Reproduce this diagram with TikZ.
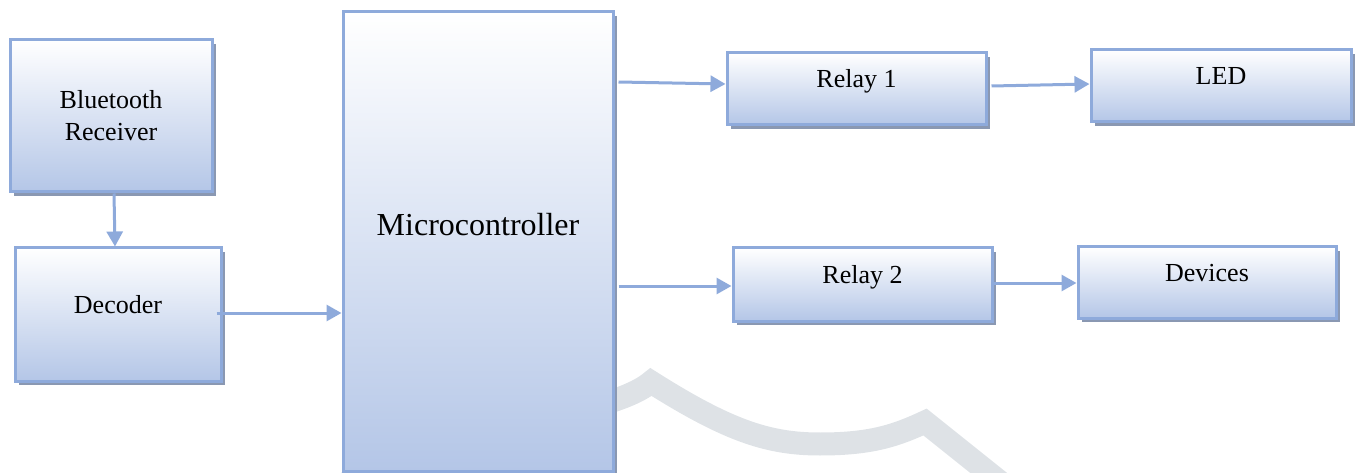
\documentclass[tikz,border=0pt]{standalone}
\usepackage{fontspec}
\setmainfont{Liberation Serif}
\usetikzlibrary{arrows.meta,shadows,calc}
\definecolor{bordc}{RGB}{142,170,219}
\definecolor{shadc}{RGB}{138,152,178}
\definecolor{botc}{RGB}{180,198,231}
\definecolor{wmarkc}{RGB}{222,226,230}
\tikzset{
  blk/.style={draw=bordc, line width=3pt, top color=white, bottom color=botc,
    inner sep=0pt, general shadow={fill=shadc, shadow xshift=4pt, shadow yshift=-4pt},
    font=\fontsize{26}{32}\selectfont},
  onel/.style={text height=18pt, text depth=20pt},
  arr/.style={draw=bordc, line width=3pt, -{Triangle[width=16pt,length=15pt]}},
  wmk/.style={draw=wmarkc, line width=23pt, line join=miter, line cap=butt}
}
\begin{document}
\begin{tikzpicture}[x=1pt,y=-1pt]
\useasboundingbox (0,0) rectangle (1355,473);
\begin{scope}
  \clip (0,0) rectangle (1355,473);
  \draw[wmk] (342,490) .. controls (380,430) and (600,425) .. (651,382)
    .. controls (730,432) and (770,444) .. (820,444)
    .. controls (870,444) and (895,436) .. (925,422) -- (1000,482);
\end{scope}
\node[blk, minimum width=202pt, minimum height=152pt, align=center] (bt) at (111,116) {Bluetooth\\Receiver};
\node[blk, onel, minimum width=206pt, minimum height=133pt] (dec) at (118,314.5) {Decoder};
\node[blk, font=\fontsize{32}{38}\selectfont, text height=22pt, text depth=33pt, minimum width=270pt, minimum height=459pt] (mc) at (478,241.5) {Microcontroller};
\node[blk, onel, minimum width=259pt, minimum height=72pt] (r1) at (856.5,89) {Relay 1};
\node[blk, onel, minimum width=260pt, minimum height=72pt] (led) at (1221,86) {LED};
\node[blk, onel, minimum width=259pt, minimum height=73pt] (r2) at (862.5,284.5) {Relay 2};
\node[blk, onel, minimum width=258pt, minimum height=71pt] (dev) at (1207,282.5) {Devices};
\draw[arr] ($(bt.south)+(3,0)$) -- ($(dec.north)+(-3,0)$);
\draw[arr] ($(dec.east)+(-6,-1.5)$) -- ($(dec.east -| mc.west)+(0,-1.5)$);
\draw[arr] ($(mc.east |- r1.west)+(4,-7)$) -- ($(r1.west)+(0,-5)$);
\draw[arr] ($(r1.east)+(4,-3)$) -- ($(led.west)+(0,-2)$);
\draw[arr] ($(mc.east |- r2.west)+(4,1.5)$) -- ($(r2.west)+(0,1.5)$);
\draw[arr] ($(r2.east)+(-1,-1.5)$) -- ($(dev.west)+(0,0.5)$);
\end{tikzpicture}
\end{document}
